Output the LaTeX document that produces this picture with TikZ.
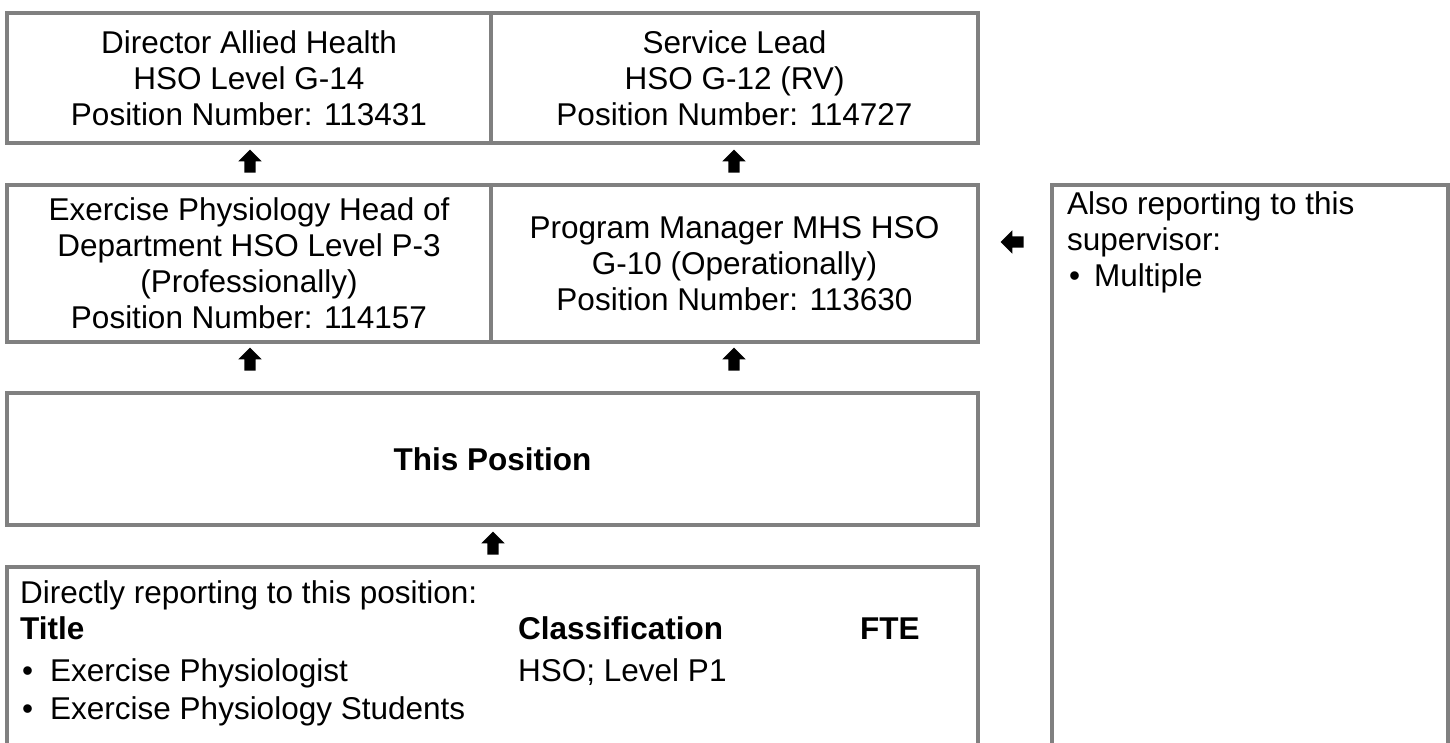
\documentclass[tikz,border=0pt]{standalone}
\usepackage{fontspec}
\setmainfont{Liberation Sans}
\usetikzlibrary{shapes.arrows}

\begin{document}
\begin{tikzpicture}[x=1pt,y=-1pt,
  every node/.style={font=\fontsize{31.5}{36}\selectfont},
  posbox/.style={draw=gray,line width=3.5pt,align=center,inner sep=0pt},
  uparrow/.style={single arrow,fill=black,draw=none,shape border rotate=90,minimum height=23pt,minimum width=23pt,inner sep=5.5pt,single arrow head extend=6pt},
  leftarrow/.style={uparrow,shape border rotate=180},
  txt/.style={anchor=base west,inner sep=0pt},
  boldtxt/.style={txt,font=\fontsize{31.5}{36}\selectfont\bfseries}]
\useasboundingbox (0,0) rectangle (1450,743);
\node[posbox,minimum width=484pt,minimum height=130pt] (dir) at (249,78) {Director Allied Health\\HSO Level G-14\\Position Number: 113431};
\node[posbox,minimum width=487pt,minimum height=130pt] (lead) at (734.5,78) {Service Lead\\HSO G-12 (RV)\\Position Number: 114727};
\node[posbox,minimum width=484pt,minimum height=157pt] (hod) at (249,263.5) {Exercise Physiology Head of\\Department HSO Level P-3\\(Professionally)\\Position Number: 114157};
\node[posbox,minimum width=487pt,minimum height=157pt] (pm) at (734.5,263.5) {Program Manager MHS HSO\\G-10 (Operationally)\\Position Number: 113630};
\node[posbox,minimum width=971pt,minimum height=132pt,font=\fontsize{31.5}{36}\selectfont\bfseries] (this) at (492.5,459) {This Position};
\node[uparrow] (up1) at (250,164) {};
\node[uparrow] (up2) at (734,164) {};
\node[uparrow] (up3) at (250,362) {};
\node[uparrow] (up4) at (734,362) {};
\node[uparrow] (up5) at (493,546) {};
\node[leftarrow] (left1) at (1015,242) {};
\draw[draw=gray,line width=3.5pt] (7,743) -- (7,567) -- (978,567) -- (978,743);
\draw[draw=gray,line width=3.5pt] (1052,743) -- (1052,185) -- (1448,185) -- (1448,743);
\node[txt] (direct) at (20,603) {Directly reporting to this position:};
\node[boldtxt] (title) at (20,639) {Title};
\node[boldtxt] (class) at (518,639) {Classification};
\node[boldtxt] (fte) at (860,639) {FTE};
\node[txt] (item1) at (22,681) {•\hspace{17pt}Exercise Physiologist};
\node[txt] (item1c) at (518,681) {HSO; Level P1};
\node[txt] (item2) at (22,719) {•\hspace{17pt}Exercise Physiology Students};
\node[txt] (also) at (1067,215) {Also reporting to this};
\node[txt] (sup) at (1067,251) {supervisor:};
\node[txt] (multi) at (1069,287) {•\hspace{14pt}Multiple};
\end{tikzpicture}
\end{document}
